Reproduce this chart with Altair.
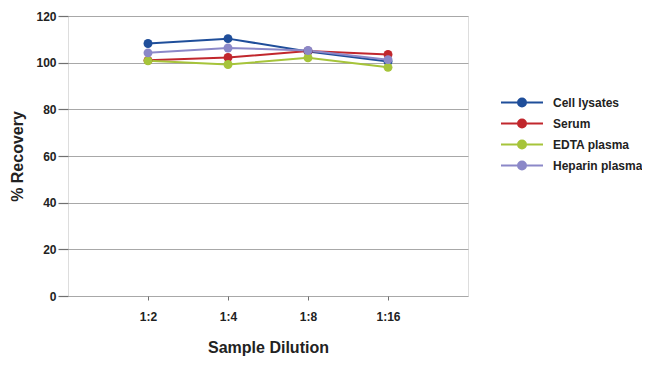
import altair as alt
import pandas as pd

dilutions = ["1:2", "1:4", "1:8", "1:16"]
series = ["Cell lysates", "Serum", "EDTA plasma", "Heparin plasma"]
cell_lysates = [108.2, 110.3, 104.8, 100.5]
serum = [101.0, 102.2, 105.0, 103.5]
edta_plasma = [100.8, 99.2, 102.1, 98.0]
heparin_plasma = [104.2, 106.3, 105.2, 101.3]
colors = ["#1F4E9A", "#C1272D", "#A6C43A", "#8B88C8"]

rows = []
for name, vals in zip(series, [cell_lysates, serum, edta_plasma, heparin_plasma]):
    for d, v in zip(dilutions, vals):
        rows.append({"Dilution": d, "Recovery": v, "Series": name})
df = pd.DataFrame(rows)

FONT = "Liberation Sans, Arial, sans-serif"

sym = "M-2,0L2,0M-0.38,0A0.38,0.38,0,1,1,0.38,0A0.38,0.38,0,1,1,-0.38,0Z"

x = alt.X("Dilution:N", sort=dilutions, scale=alt.Scale(type="point", padding=1),
          axis=alt.Axis(title="Sample Dilution", labelAngle=0, grid=False, domain=False,
                        tickColor="#707070", tickSize=4, labelPadding=11,
                        labelFontSize=12, labelFontWeight="bold", labelColor="#222",
                        titleFontSize=16, titleFontWeight="bold", titleColor="#222",
                        titlePadding=17))
y = alt.Y("Recovery:Q", scale=alt.Scale(domain=[0, 120]),
          axis=alt.Axis(title="% Recovery", values=[0, 20, 40, 60, 80, 100, 120],
                        grid=True, gridColor="#a8a8a8", gridWidth=1.2,
                        domain=False, tickColor="#707070", tickSize=10, tickWidth=1.2,
                        labelPadding=2, labelFontSize=12, labelFontWeight="bold",
                        labelColor="#222", titleFontSize=16, titleFontWeight="bold",
                        titleColor="#222", titlePadding=10))
color = alt.Color("Series:N", sort=series,
                  scale=alt.Scale(domain=series, range=colors),
                  legend=alt.Legend(title=None, orient="none", legendX=442.5, legendY=75,
                                    symbolType=sym, symbolSize=441, symbolStrokeWidth=2,
                                    labelFontSize=12, labelFontWeight="bold",
                                    labelColor="#222", labelFont=FONT, rowPadding=1,
                                    labelOffset=19.5, labelLimit=200))

base = alt.Chart(df)
lines = base.mark_line(strokeWidth=2).encode(x=x, y=y, color=color)
points = base.mark_point(filled=True, size=80, opacity=1).encode(x=x, y=y, color=color)

chart = (lines + points).properties(
    width=400, height=280,
    autosize=alt.AutoSizeParams(type="none"),
    padding={"left": 60, "top": 8, "right": 174, "bottom": 62},
).configure_view(stroke="#707070", strokeWidth=1.5).configure(font=FONT)

chart.save("out.html", embed_options={"renderer": "svg", "actions": False})
